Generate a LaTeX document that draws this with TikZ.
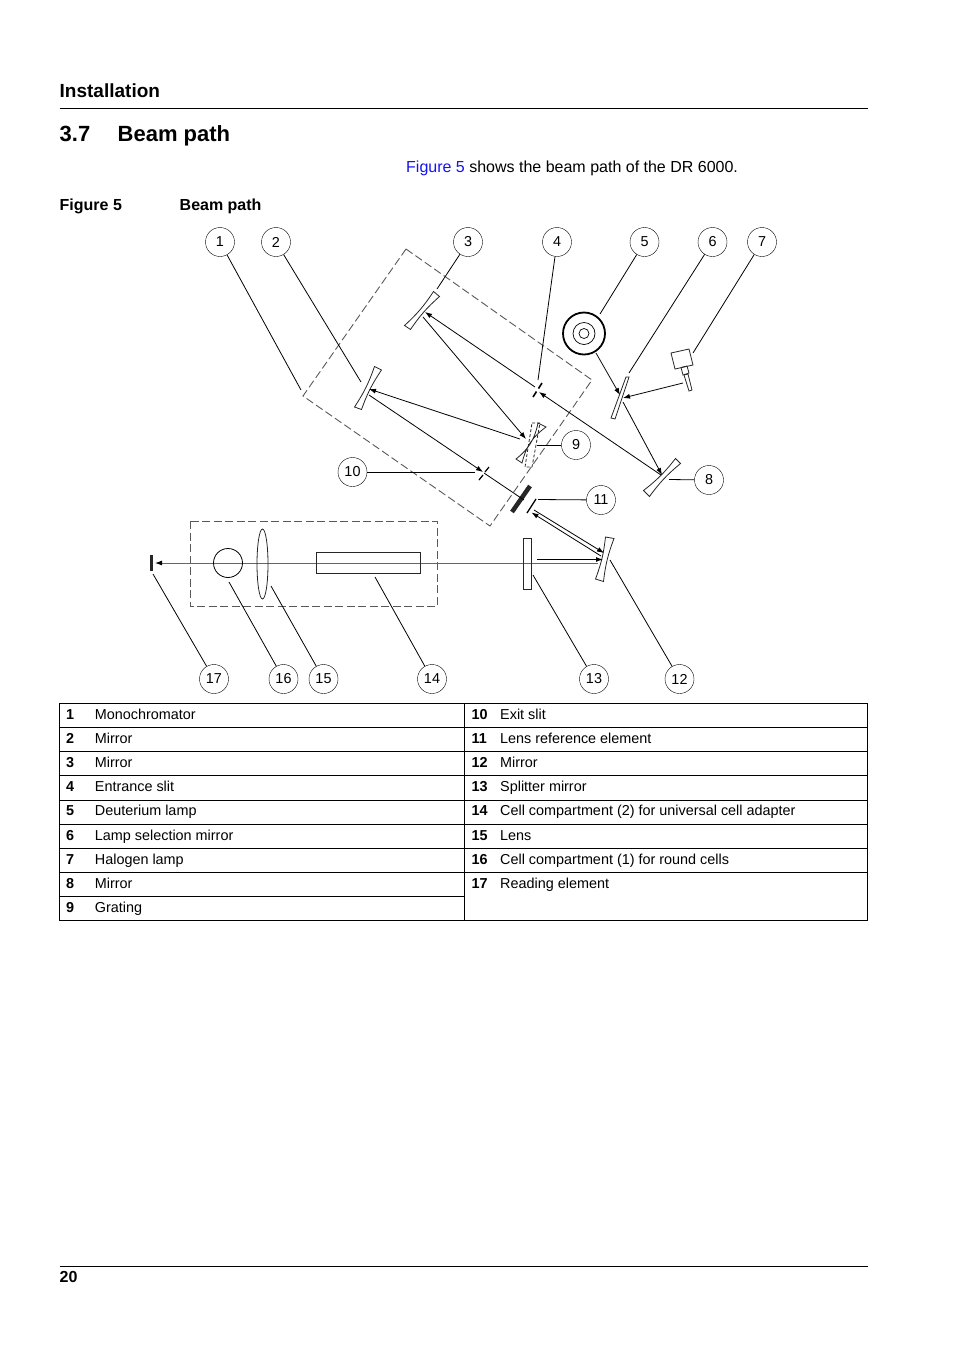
\documentclass[tikz,border=0pt]{standalone}
\usepackage{fontspec}
\setmainfont{Liberation Sans}
\usetikzlibrary{arrows.meta}
\definecolor{linkblue}{RGB}{20,20,235}
\tikzset{
  callout/.style={shape=circle,draw,minimum size=29pt,inner sep=0pt,font=\fontsize{14.4}{16}\selectfont},
  leader/.style={line width=0.8pt},
  beam/.style={line width=0.8pt,-{Latex[length=7pt,width=5pt]}},
  axis/.style={line width=0.9pt,black!60},
  optic/.style={line width=0.8pt,black!85},
  housing/.style={line width=0.9pt,black!65,dash pattern=on 8pt off 3.5pt},
  rulerline/.style={line width=0.9pt},
  running/.style={anchor=base west,inner sep=0pt,font=\fontsize{19}{22}\selectfont\bfseries},
  heading/.style={anchor=base west,inner sep=0pt,font=\fontsize{22}{26}\selectfont\bfseries},
  bodytext/.style={anchor=base west,inner sep=0pt,font=\fontsize{16}{18}\selectfont},
  captiontext/.style={anchor=base west,inner sep=0pt,font=\fontsize{16}{18}\selectfont\bfseries},
  rownum/.style={anchor=base west,inner sep=0pt,font=\fontsize{14.4}{16}\selectfont\bfseries},
  rowtext/.style={anchor=base west,inner sep=0pt,font=\fontsize{14.4}{16}\selectfont}
}
\newcommand{\mirrorbody}[5][7]{\draw[optic] #2 -- #3 to[bend right=#1] #4 -- #5 to[bend right=#1] #2 -- cycle;}
\begin{document}
\begin{tikzpicture}[x=1pt,y=-1pt]
  \useasboundingbox (0,0) rectangle (954,1350);
  % page text
  \path (59.5,97) node [running] (running) {Installation}
  (59.5,141) node [heading] (secnum) {3.7}
  (117.5,141) node [heading] (sectitle) {Beam path}
  (406,172) node [bodytext] (intro) {\textcolor{linkblue}{Figure 5} shows the beam path of the DR 6000.}
  (59.5,210) node [captiontext] (fignum) {Figure 5}
  (179.5,210) node [captiontext] (figtitle) {Beam path}
  (59.5,1282) node [captiontext] (pagenum) {20};
  \draw[rulerline] (59.5,108.5) -- (868,108.5);
  \draw[rulerline] (59.5,1266.5) -- (868,1266.5);
  % housings
  \draw[housing] (406,249) -- (592,380) -- (490,526) -- (303,396) -- cycle;
  \draw[housing] (190,521) rectangle (437,606);
  % optical axis
  \path (598,563) coordinate (axisstart)
  (155,563) coordinate (axisend);
  \draw[axis,-{Latex[length=7pt,width=5pt,black]}] (axisstart) -- (axisend);
  % mirrors and lamps
  \mirrorbody{(374.5,366.5)}{(381.5,370)}{(361.5,409.5)}{(354.5,407)}
  \mirrorbody{(433.5,291.5)}{(439.5,296.5)}{(410.5,329.5)}{(404.5,325.5)}
  \mirrorbody{(675.5,458.5)}{(680.5,463.5)}{(649.5,496.5)}{(643.5,490.5)}
  \mirrorbody{(605.5,537)}{(614,538.5)}{(603.5,581.5)}{(595.5,579)}
  \mirrorbody[20]{(538,423)}{(546,427)}{(522,463)}{(516,459)}
  \draw[optic,dashed,dash pattern=on 3pt off 2pt] (532,423) -- (540,423) -- (532,467) -- (525,467) -- cycle;
  \draw[optic] (626,377) -- (629,377) -- (615,419) -- (611,418) -- cycle;
  \node [shape=circle,draw,line width=1.8pt,minimum size=42pt,inner sep=0pt] (lampouter) at (584,333.5) {};
  \node [shape=circle,draw,line width=0.7pt,minimum size=22pt,inner sep=0pt] (lampmid) at (584,333.5) {};
  \node [shape=circle,draw,line width=0.7pt,minimum size=10pt,inner sep=0pt] (lampinner) at (584,333.5) {};
  \draw[optic] (671,353) -- (689,349) -- (693,365) -- (675,369) -- cycle;
  \draw[optic] (681,367.5) -- (687,366) -- (689,373) -- (683,375) -- cycle;
  \draw[optic] (684,375) -- (688,374) -- (692,390) -- (689,391) -- cycle;
  % slits and elements
  \draw[line width=1.6pt] (542,383) -- (538.5,388.5) (536.5,391.5) -- (533,397);
  \draw[line width=1.2pt] (489,467) -- (485,472) (483,475) -- (479,480);
  \draw[line width=4.5pt,black!85] (512,512) -- (530,486);
  \draw[line width=1.3pt] (527,513) -- (536,499);
  \draw[optic] (523.5,538.5) rectangle (531,589);
  \draw[line width=3pt,black!85] (151.5,555) -- (151.5,571);
  \node [shape=circle,draw,line width=0.8pt,minimum size=29pt,inner sep=0pt] (roundcell) at (228,563) {};
  \draw[optic] (262.5,564) ellipse [x radius=5.5,y radius=35];
  \draw[optic] (316,552.5) rectangle (420.5,573);
  % beam points
  \path (596,353) coordinate (d2out)
  (620,395) coordinate (m6in)
  (683,383) coordinate (halout)
  (623,398) coordinate (m6inb)
  (623,402) coordinate (m6out)
  (662,475) coordinate (m8in)
  (661,475) coordinate (m8out)
  (539,392) coordinate (entrin)
  (535,387) coordinate (entrout)
  (425,312) coordinate (m3in)
  (423,317) coordinate (m3out)
  (526,439) coordinate (gratin)
  (520,439) coordinate (gratout)
  (369,389) coordinate (m2in)
  (369,395) coordinate (m2out)
  (483,472) coordinate (exitin)
  (484,473) coordinate (exitout)
  (524,500) coordinate (lensin)
  (534,510) coordinate (refa)
  (604,553) coordinate (m12a)
  (601,556) coordinate (m12b)
  (531.5,512.5) coordinate (refb)
  (537,559.5) coordinate (splitout)
  (603,559.5) coordinate (m12c);
  \draw[beam] (d2out) -- (m6in);
  \draw[beam] (halout) -- (m6inb);
  \draw[beam] (m6out) -- (m8in);
  \draw[beam] (m8out) -- (entrin);
  \draw[beam] (entrout) -- (m3in);
  \draw[beam] (m3out) -- (gratin);
  \draw[beam] (gratout) -- (m2in);
  \draw[beam] (m2out) -- (exitin);
  \draw[leader] (exitout) -- (lensin);
  \draw[beam] (refa) -- (m12a);
  \draw[beam] (m12b) -- (refb);
  \draw[beam,line width=1.1pt] (splitout) -- (m12c);
  % callouts
  \path (220,242) node [callout] (no1) {1}
  (276,242) node [callout] (no2) {2}
  (468,242) node [callout] (no3) {3}
  (557,242) node [callout] (no4) {4}
  (644.5,242) node [callout] (no5) {5}
  (712.5,242) node [callout] (no6) {6}
  (762,242) node [callout] (no7) {7}
  (709,480) node [callout] (no8) {8}
  (576,445) node [callout] (no9) {9}
  (352.5,472) node [callout] (no10) {10}
  (601,500) node [callout] (no11) {11}
  (679.5,679) node [callout] (no12) {12}
  (594,679) node [callout] (no13) {13}
  (432,679) node [callout] (no14) {14}
  (323.5,679) node [callout] (no15) {15}
  (283.5,679) node [callout] (no16) {16}
  (214,679) node [callout] (no17) {17};
  \path (301,390) coordinate (tip1)
  (361,382) coordinate (tip2)
  (437,289) coordinate (tip3)
  (538,380) coordinate (tip4)
  (600,314) coordinate (tip5)
  (629,373) coordinate (tip6)
  (693,353) coordinate (tip7)
  (669,479.5) coordinate (tip8)
  (537,445) coordinate (tip9)
  (475,472) coordinate (tip10)
  (538,499.5) coordinate (tip11)
  (610,560) coordinate (tip12)
  (533,575) coordinate (tip13)
  (375,577) coordinate (tip14)
  (271,586) coordinate (tip15)
  (229,582) coordinate (tip16)
  (153,574) coordinate (tip17);
  \draw[leader] (no1) -- (tip1);
  \draw[leader] (no2) -- (tip2);
  \draw[leader] (no3) -- (tip3);
  \draw[leader] (no4) -- (tip4);
  \draw[leader] (no5) -- (tip5);
  \draw[leader] (no6) -- (tip6);
  \draw[leader] (no7) -- (tip7);
  \draw[leader] (no8) -- (tip8);
  \draw[leader] (no9) -- (tip9);
  \draw[leader] (no10) -- (tip10);
  \draw[leader] (no11) -- (tip11);
  \draw[leader] (no12) -- (tip12);
  \draw[leader] (no13) -- (tip13);
  \draw[leader] (no14) -- (tip14);
  \draw[leader] (no15) -- (tip15);
  \draw[leader] (no16) -- (tip16);
  \draw[leader] (no17) -- (tip17);
  % parts table
  \draw[rulerline] (59.5,703.5) rectangle (867.5,920.5);
  \draw[rulerline] (464.5,703.5) -- (464.5,920.5);
  \draw[rulerline] (59.5,727.5) -- (867.5,727.5);
  \draw[rulerline] (59.5,751.5) -- (867.5,751.5);
  \draw[rulerline] (59.5,775.5) -- (867.5,775.5);
  \draw[rulerline] (59.5,800.5) -- (867.5,800.5);
  \draw[rulerline] (59.5,824.5) -- (867.5,824.5);
  \draw[rulerline] (59.5,848.5) -- (867.5,848.5);
  \draw[rulerline] (59.5,872.5) -- (867.5,872.5);
  \draw[rulerline] (59.5,896.5) -- (464.5,896.5);
  \path (66,719) node [rownum] (rn1) {1}
  (66,743) node [rownum] (rn2) {2}
  (66,767) node [rownum] (rn3) {3}
  (66,791) node [rownum] (rn4) {4}
  (66,815.5) node [rownum] (rn5) {5}
  (66,840) node [rownum] (rn6) {6}
  (66,864) node [rownum] (rn7) {7}
  (66,888) node [rownum] (rn8) {8}
  (66,912) node [rownum] (rn9) {9}
  (471.5,719) node [rownum] (rn10) {10}
  (471.5,743) node [rownum] (rn11) {11}
  (471.5,767) node [rownum] (rn12) {12}
  (471.5,791) node [rownum] (rn13) {13}
  (471.5,815.5) node [rownum] (rn14) {14}
  (471.5,840) node [rownum] (rn15) {15}
  (471.5,864) node [rownum] (rn16) {16}
  (471.5,888) node [rownum] (rn17) {17};
  \path (94.7,719) node [rowtext] (rt1) {Monochromator}
  (94.7,743) node [rowtext] (rt2) {Mirror}
  (94.7,767) node [rowtext] (rt3) {Mirror}
  (94.7,791) node [rowtext] (rt4) {Entrance slit}
  (94.7,815.5) node [rowtext] (rt5) {Deuterium lamp}
  (94.7,840) node [rowtext] (rt6) {Lamp selection mirror}
  (94.7,864) node [rowtext] (rt7) {Halogen lamp}
  (94.7,888) node [rowtext] (rt8) {Mirror}
  (94.7,912) node [rowtext] (rt9) {Grating}
  (500,719) node [rowtext] (rt10) {Exit slit}
  (500,743) node [rowtext] (rt11) {Lens reference element}
  (500,767) node [rowtext] (rt12) {Mirror}
  (500,791) node [rowtext] (rt13) {Splitter mirror}
  (500,815.5) node [rowtext] (rt14) {Cell compartment (2) for universal cell adapter}
  (500,840) node [rowtext] (rt15) {Lens}
  (500,864) node [rowtext] (rt16) {Cell compartment (1) for round cells}
  (500,888) node [rowtext] (rt17) {Reading element};
\end{tikzpicture}
\end{document}
